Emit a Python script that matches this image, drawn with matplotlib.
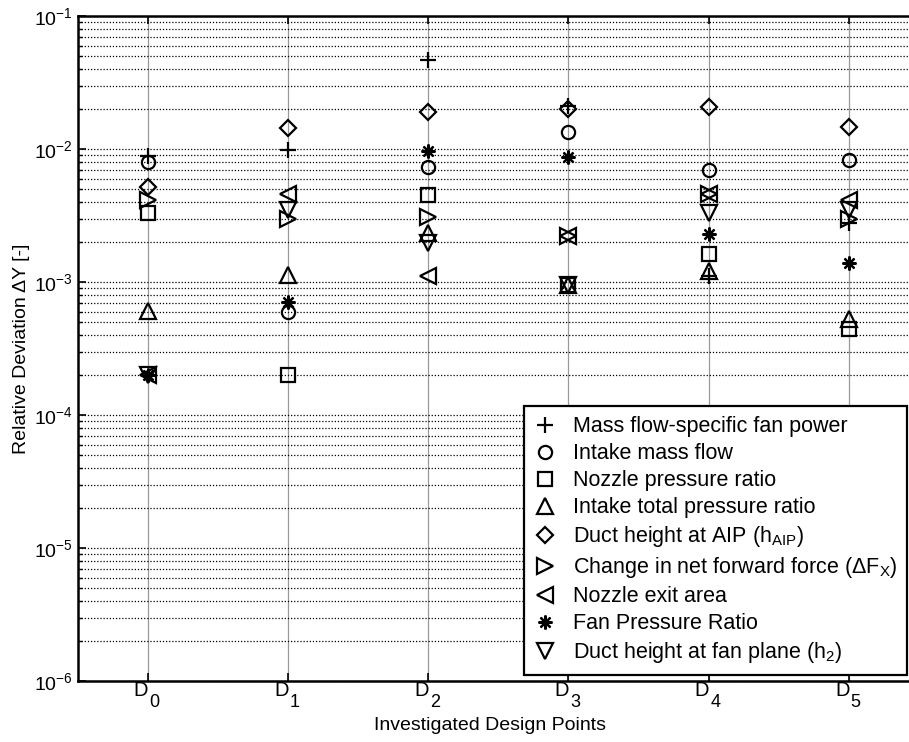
import matplotlib
matplotlib.use('Agg')
import matplotlib.pyplot as plt
import numpy as np

design_points = ['D_0', 'D_1', 'D_2', 'D_3', 'D_4', 'D_5']

fan_power = [8.8e-3, 9.8e-3, 4.7e-2, 2.1e-2, 1.10e-3, 2.8e-3]
intake_mass_flow = [8.0e-3, 6.0e-4, 7.3e-3, 1.34e-2, 6.95e-3, 8.2e-3]
nozzle_pressure_ratio = [3.3e-3, 2.0e-4, 4.5e-3, 9.5e-4, 1.62e-3, 4.4e-4]
intake_total_pr = [6.1e-4, 1.13e-3, 2.35e-3, 9.5e-4, 1.22e-3, 5.3e-4]
duct_height_aip = [5.2e-3, 1.43e-2, 1.91e-2, 2.0e-2, 2.08e-2, 1.46e-2]
net_forward_force = [4.1e-3, 3.0e-3, 3.1e-3, 2.2e-3, 4.6e-3, 3.0e-3]
nozzle_exit_area = [2.0e-4, 4.6e-3, 1.1e-3, 2.2e-3, 4.6e-3, 4.1e-3]
fan_pressure_ratio = [2.0e-4, 7.1e-4, 9.7e-3, 8.7e-3, 2.3e-3, 1.4e-3]
duct_height_fan = [2.0e-4, 3.5e-3, 1.95e-3, 9.5e-4, 3.3e-3, 3.5e-3]

labels = ['Mass flow-specific fan power', 'Intake mass flow', 'Nozzle pressure ratio',
          'Intake total pressure ratio', 'Duct height at AIP (h$_{AIP}$)',
          'Change in net forward force ($\\Delta$F$_X$)', 'Nozzle exit area',
          'Fan Pressure Ratio', 'Duct height at fan plane (h$_2$)']

plt.rcParams['font.family'] = ['Liberation Sans', 'DejaVu Sans']
plt.rcParams['mathtext.fontset'] = 'custom'
plt.rcParams['mathtext.rm'] = 'Liberation Sans'
plt.rcParams['mathtext.it'] = 'Liberation Sans:italic'
plt.rcParams['mathtext.bf'] = 'Liberation Sans:bold'
plt.rcParams['mathtext.default'] = 'regular'

fig = plt.figure(figsize=(9.09, 7.42), dpi=100)
ax = fig.add_axes([77.5 / 909, 1 - 681 / 742, 841.5 / 909, 665 / 742])

x = np.arange(len(design_points))
series = [fan_power, intake_mass_flow, nozzle_pressure_ratio, intake_total_pr,
          duct_height_aip, net_forward_force, nozzle_exit_area, fan_pressure_ratio,
          duct_height_fan]
markers = ['+', 'o', 's', '^', 'D', '>', '<', (8, 2, 0), 'v']
sizes = [11, 9.5, 9.5, 11, 9.5, 11, 11, 10, 11]

handles = []
for vals, m, ms, lab in zip(series, markers, sizes, labels):
    msz = ms * 0.86 if m == 'D' else ms
    h, = ax.plot(x, vals, linestyle='none', marker=m, markersize=msz,
                 markerfacecolor='none', markeredgecolor='black',
                 markeredgewidth=1.6, color='black', label=lab, zorder=3)
    handles.append(h)

ax.set_yscale('log')
ax.set_ylim(1e-6, 1e-1)
ax.set_xlim(-0.5, 5.5)
ax.set_xticks(x)
ax.set_xticklabels([''] * len(x))
ax.tick_params(axis='y', labelsize=14)
ax.tick_params(which='both', direction='in', top=True, right=True)
ax.tick_params(which='major', length=6, width=1.2)
ax.tick_params(which='minor', length=3, width=1.0)

# MATLAB-style tick labels with a strongly lowered subscript
for xi, name in zip(x, design_points):
    base, sub = name.split('_')
    ax.annotate(base, xy=(xi, 0), xycoords=('data', 'axes fraction'),
                xytext=(0.5, -11.0), textcoords='offset points',
                ha='right', va='baseline', fontsize=14.5)
    ax.annotate(sub, xy=(xi, 0), xycoords=('data', 'axes fraction'),
                xytext=(1.2, -18.6), textcoords='offset points',
                ha='left', va='baseline', fontsize=13)

ax.yaxis.grid(True, which='both', linestyle=(0, (1, 1.5)), color='black', linewidth=0.9)
ax.xaxis.grid(True, which='major', linestyle='-', color='0.6', linewidth=0.9)
ax.set_axisbelow(True)

for s in ax.spines.values():
    s.set_linewidth(1.8)

ax.set_ylabel('Relative Deviation ΔY [-]', fontsize=14)
ax.yaxis.set_label_coords(-0.056, 0.5)
ax.set_xlabel('Investigated Design Points', fontsize=14)
ax.xaxis.set_label_coords(0.49, -0.054)

leg = ax.legend(handles=handles, loc='lower right',
                bbox_to_anchor=(907 / 909, 1 - 675 / 742), bbox_transform=fig.transFigure,
                frameon=True, fancybox=False, edgecolor='black', framealpha=1,
                handlelength=1.0, handletextpad=0.8, labelspacing=0.28,
                borderpad=0.45, borderaxespad=0, fontsize=15.5)
leg.get_frame().set_linewidth(1.6)
leg.set_zorder(5)

fig.savefig('out.png', dpi=100)
